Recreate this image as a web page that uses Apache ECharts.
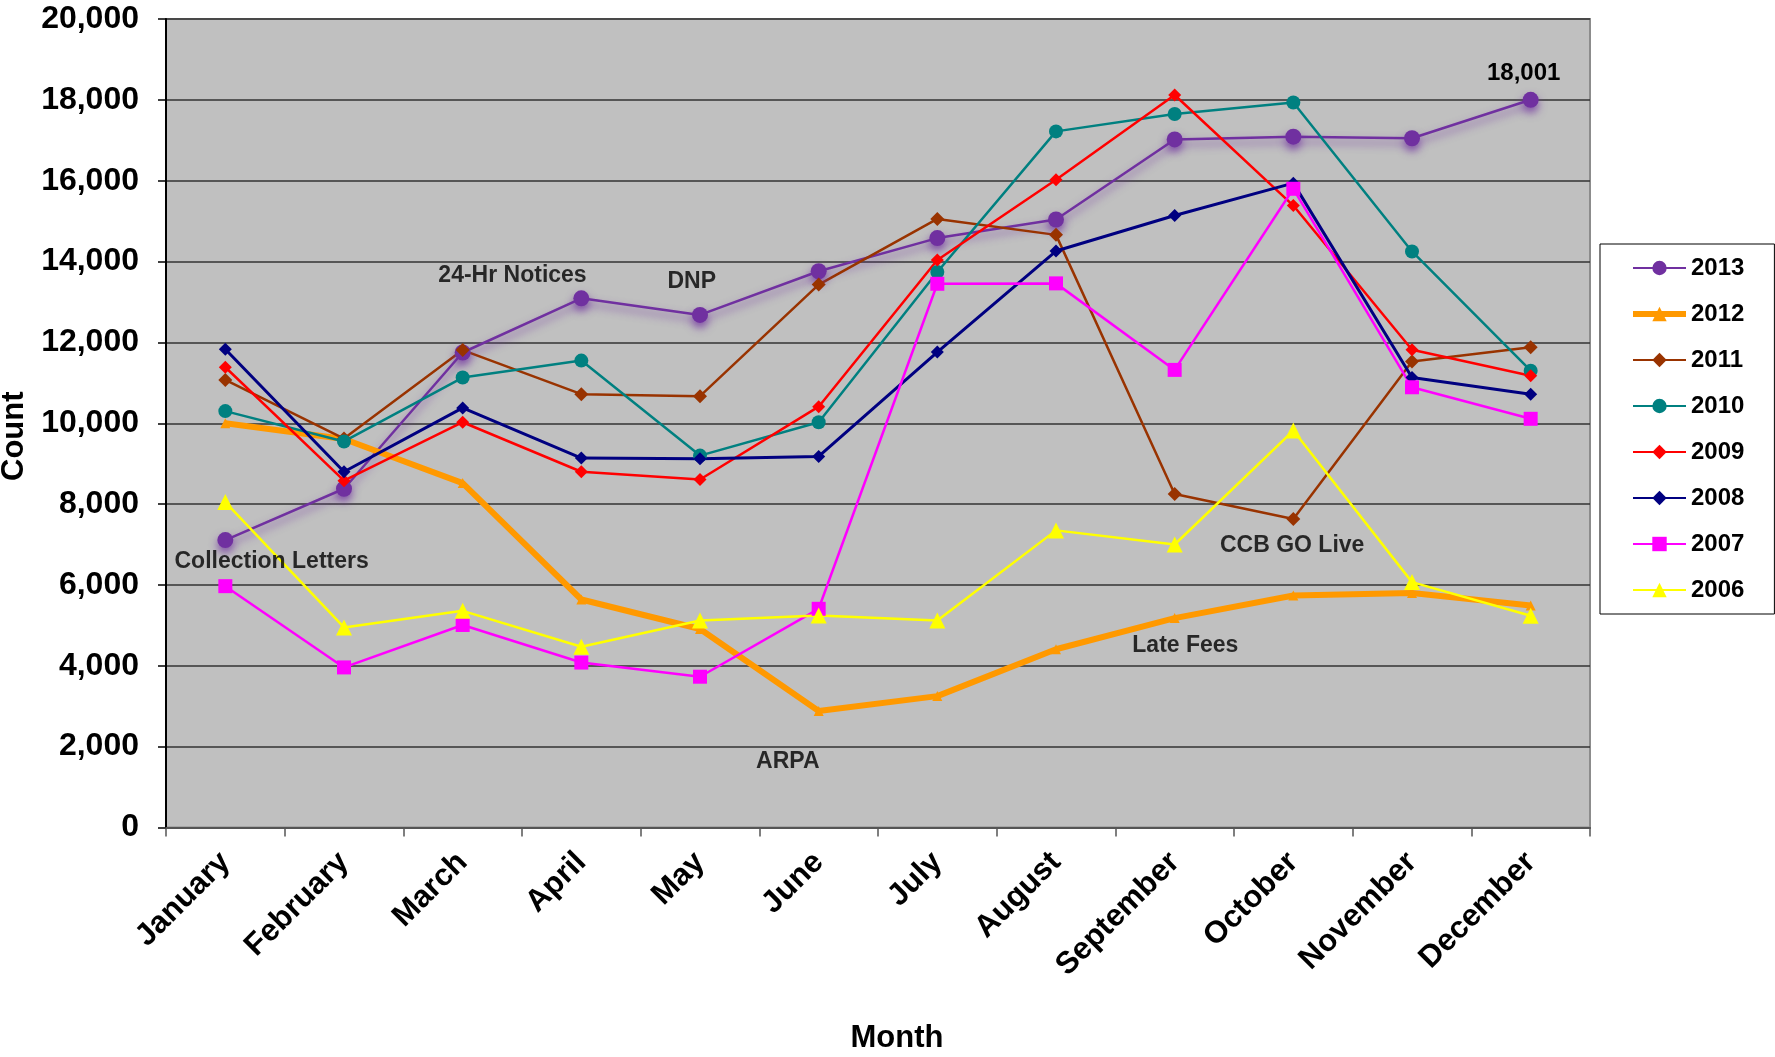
<!DOCTYPE html>
<html>
<head>
<meta charset="utf-8">
<script src="https://cdn.jsdelivr.net/npm/echarts@6/dist/echarts.min.js"></script>
<style>
html,body{margin:0;padding:0;background:#fff;}
#chart{width:1775px;height:1057px;}
</style>
</head>
<body>
<div id="chart"></div>
<script>
var months = ['January','February','March','April','May','June','July','August','September','October','November','December'];
var yTicks = [0, 2000, 4000, 6000, 8000, 10000, 12000, 14000, 16000, 18000, 20000];

var y2013 = [7110, 8380, 11750, 13090, 12680, 13760, 14580, 15040, 17020, 17090, 17050, 18001];
var y2012 = [10000, 9610, 8520, 5640, 4910, 2880, 3250, 4410, 5180, 5740, 5800, 5490];
var y2011 = [11070, 9620, 11810, 10720, 10670, 13430, 15055, 14660, 8250, 7630, 11530, 11880];
var y2010 = [10300, 9550, 11130, 11550, 9200, 10025, 13740, 17220, 17650, 17935, 14250, 11300];
var y2009 = [11385, 8580, 10025, 8800, 8610, 10410, 14040, 16025, 18120, 15385, 11820, 11175];
var y2008 = [11830, 8800, 10380, 9140, 9120, 9180, 11760, 14260, 15140, 15940, 11130, 10720];
var y2007 = [5970, 3960, 5010, 4080, 3730, 5410, 13450, 13460, 11320, 15800, 10890, 10110];
var y2006 = [8050, 4950, 5360, 4470, 5120, 5245, 5120, 7350, 7000, 9820, 6070, 5240];

// annotations: text, month position (index), value
var noteText = ['Collection Letters', '24-Hr Notices', 'DNP', 'ARPA', 'Late Fees', 'CCB GO Live'];
var noteMonth = [0.39, 2.42, 3.93, 4.74, 8.09, 8.99];
var noteValue = [6580, 13650, 13500, 1625, 4510, 6980];

var FONT = 'Liberation Sans';

function lineSeries(name, data, color, symbol, size, width, extra) {
  var s = {
    name: name, type: 'line', data: data,
    symbol: symbol, symbolSize: size,
    lineStyle: { color: color, width: width },
    itemStyle: { color: color },
    emphasis: { disabled: true },
    animation: false
  };
  if (extra) { for (var k in extra) s[k] = extra[k]; }
  return s;
}

var series = [
  lineSeries('2013', y2013.map(function (v, i) {
    if (i === y2013.length - 1) {
      return { value: v, label: { show: true, position: 'top', distance: 6, offset: [-7, 0],
        formatter: function (p) { return p.value.toLocaleString('en-US'); },
        fontFamily: FONT, fontWeight: 'bold', fontSize: 24, color: '#000' } };
    }
    return v;
  }), '#7030A0', 'circle', 16, 2.5, {
    lineStyle: { color: '#7030A0', width: 2.5, shadowColor: 'rgba(112,48,160,0.75)', shadowBlur: 9, shadowOffsetY: 5 },
    itemStyle: { color: '#7030A0', shadowColor: 'rgba(112,48,160,0.75)', shadowBlur: 8, shadowOffsetY: 5 }
  }),
  lineSeries('2012', y2012, '#FF9900', 'triangle', 10, 6),
  lineSeries('2011', y2011, '#993300', 'diamond', 14, 2.5),
  lineSeries('2010', y2010, '#008080', 'circle', 14, 2.5),
  lineSeries('2009', y2009, '#FF0000', 'diamond', 13, 2.5),
  lineSeries('2008', y2008, '#000080', 'diamond', 13, 3),
  lineSeries('2007', y2007, '#FF00FF', 'rect', 14, 2.5),
  lineSeries('2006', y2006, '#FFFF00', 'triangle', 16, 2.5),
  {
    name: 'notes', type: 'scatter', xAxisIndex: 1, yAxisIndex: 0,
    symbolSize: 0, silent: true, animation: false,
    data: noteText.map(function (t, i) { return { name: t, value: [noteMonth[i], noteValue[i]] }; }),
    label: { show: true, position: 'inside', formatter: function (p) { return p.name; },
      fontFamily: FONT, fontWeight: 'bold', fontSize: 23, color: '#000' },
    z: 10
  }
];

var legendNames = ['2013','2012','2011','2010','2009','2008','2007','2006'];
var legendData = legendNames.map(function (n) {
  return n === '2012' ? { name: n, lineStyle: { width: 6 } } : { name: n };
});

var chart = echarts.init(document.getElementById('chart'), null, { renderer: 'canvas' });
chart.setOption({
  backgroundColor: '#fff',
  animation: false,
  grid: {
    left: 166, top: 19, right: 185, bottom: 229.5,
    show: true, backgroundColor: '#C0C0C0', borderColor: '#8c8c8c', borderWidth: 2,
    containLabel: false, outerBoundsMode: 'none'
  },
  legend: {
    data: legendData,
    orient: 'vertical', left: 1600, top: 244,
    backgroundColor: '#fff', borderColor: '#000', borderWidth: 1,
    padding: [12, 30, 12, 30],
    itemWidth: 53, itemHeight: 18, itemGap: 22,
    textStyle: { fontFamily: FONT, fontWeight: 'bold', fontSize: 24, color: '#000', lineHeight: 24 },
    selectedMode: false
  },
  xAxis: [{
    type: 'category', data: months, boundaryGap: true,
    axisLine: { show: true, onZero: false, lineStyle: { color: '#555', width: 2 } },
    axisTick: { show: true, length: 9, inside: false, lineStyle: { color: '#555', width: 1.5 } },
    axisLabel: { rotate: 45, margin: 30, fontFamily: FONT, fontWeight: 'bold', fontSize: 31, color: '#000', interval: 0 },
    splitLine: { show: false },
    name: 'Month', nameLocation: 'middle', nameGap: 195,
    nameTextStyle: { fontFamily: FONT, fontWeight: 'bold', fontSize: 31, color: '#000', padding: [0, 0, 0, 38] }
  }, {
    type: 'value', min: -0.5, max: 11.5, show: false,
    axisLine: { show: false, onZero: false }
  }],
  yAxis: {
    type: 'value', min: 0, max: 20000, interval: 2000,
    axisLine: { show: true, onZero: false, lineStyle: { color: '#000', width: 2 } },
    axisTick: { show: true, length: 8, lineStyle: { color: '#000', width: 1.5 } },
    axisLabel: { margin: 27, fontFamily: FONT, fontWeight: 'bold', fontSize: 32, color: '#000',
      formatter: function (v) { return v.toLocaleString('en-US'); } },
    splitLine: { show: true, lineStyle: { color: '#333', width: 1.5 } },
    name: 'Count', nameLocation: 'middle', nameGap: 123, nameRotate: 90,
    nameTextStyle: { fontFamily: FONT, fontWeight: 'bold', fontSize: 31, color: '#000', padding: [0, 26, 0, 0] }
  },
  series: series
});
</script>
</body>
</html>
